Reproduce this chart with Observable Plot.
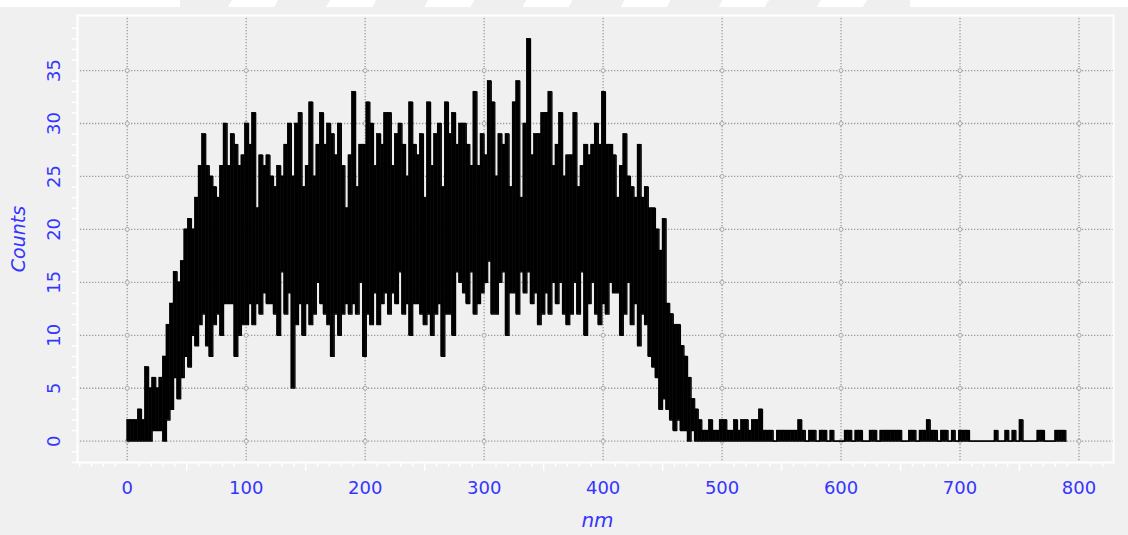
<!DOCTYPE html>
<html><head><meta charset="utf-8">
<script src="https://cdn.jsdelivr.net/npm/d3@7"></script>
<script src="https://cdn.jsdelivr.net/npm/@observablehq/plot@0.6"></script>
<style>
html,body{margin:0;padding:0;background:#f0f0f0;}
#wrap{position:relative;width:1128px;height:535px;overflow:hidden;background:#f0f0f0;}
#strip{position:absolute;left:0;top:0;width:1128px;height:7px;background:#fff;}
#strip .band{position:absolute;left:180px;top:0;width:730px;height:7px;
  background:repeating-linear-gradient(120deg,#efefef 0 45px,#ffffff 45px 85px);}
</style></head><body>
<div id="wrap"><div id="chart"></div><div id="strip"><div class="band"></div></div></div>
<script>
// bin width (nm) of the histogram
const binWidth = 3;
// upper envelope of counts per 3 nm bin, starting at 0 nm
const countsHigh = [
2,2,2,3,2,7,5,6,5,6,
8,11,13,16,15,17,20,21,20,23,
26,29,26,25,24,23,26,30,26,29,
28,26,27,30,28,31,22,27,26,27,
25,24,26,25,28,30,25,30,31,24,
26,32,25,28,31,28,30,29,27,30,
26,22,27,33,24,28,28,32,30,26,
29,28,31,31,26,29,30,28,25,32,
28,27,29,23,32,26,29,30,24,32,
29,31,28,30,30,28,26,33,26,29,
27,34,32,25,29,28,29,24,32,34,
23,30,38,27,29,29,31,31,33,26,
28,31,25,27,27,31,24,26,28,27,
28,30,28,33,28,28,27,23,26,29,
25,24,23,28,23,24,22,22,20,18,
21,13,12,11,11,9,8,6,4,3,
2,1,1,2,1,1,2,2,1,1,
2,1,2,2,1,2,2,3,1,1,
1,0,1,1,1,1,1,1,2,1,
0,1,1,0,1,1,0,1,0,0,
0,1,1,0,1,1,0,0,1,1,
0,1,1,1,1,1,1,0,0,1,
1,0,1,1,2,1,1,0,1,1,
0,1,0,1,1,1,0,0,0,0,
0,0,0,1,0,0,1,0,1,0,
2,0,0,0,0,1,1,0,0,0,
1,1,1,0];
// lower envelope of counts per 3 nm bin
const countsLow = [
0,0,0,0,0,0,0,1,1,1,
0,2,3,6,4,6,8,7,10,9,
11,12,9,8,11,12,10,13,13,13,
8,10,11,11,13,11,13,12,14,13,
13,12,10,16,12,14,5,11,13,10,
13,11,12,15,13,12,11,8,12,10,
12,13,12,13,12,15,8,12,11,14,
11,13,14,12,14,13,16,12,13,10,
13,13,12,11,12,10,12,13,8,12,
12,10,16,15,14,13,16,12,13,14,
15,17,12,12,15,16,10,14,14,12,
16,14,16,13,14,11,12,14,12,15,
13,15,12,11,12,15,12,16,10,13,
15,12,11,13,12,15,14,14,10,12,
15,11,13,9,12,11,8,7,6,3,
4,3,2,1,2,1,1,0,1,0,
0,0,0,0,0,0,0,0,0,0,
0,0,0,0,0,0,0,0,0,0,
0,0,0,0,0,0,0,0,0,0,
0,0,0,0,0,0,0,0,0,0,
0,0,0,0,0,0,0,0,0,0,
0,0,0,0,0,0,0,0,0,0,
0,0,0,0,0,0,0,0,0,0,
0,0,0,0,0,0,0,0,0,0,
0,0,0,0,0,0,0,0,0,0,
0,0,0,0,0,0,0,0,0,0,
0,0,0,0];
const xTicks = [0,100,200,300,400,500,600,700,800];
const yTicks = [0,5,10,15,20,25,30,35];
const xMidTicks = [50,150,250,350,450,550,650,750];
const xTitle = "nm";
const yTitle = "Counts";

const data = countsHigh.map((h, i) => ({nm: i * binWidth, nm2: (i + 1) * binWidth, hi: h, lo: countsLow[i]}));
const bars = data.slice(0, -1);
const xMinor = d3.range(-40, 830, 10).filter(v => v % 50 !== 0);
const yMinor = d3.range(-2, 41, 1).filter(v => v % 5 !== 0);
const cross = xTicks.flatMap(x => yTicks.map(y => ({x, y})));

const blue = "#3535ff";
const grid = "#9c9c9c";

const chart = Plot.plot({
  width: 1128, height: 535,
  marginLeft: 77, marginRight: 15, marginTop: 15, marginBottom: 73,
  style: {background: "#f0f0f0", fontFamily: "DejaVu Sans", overflow: "visible"},
  x: {domain: [-41.8, 829], axis: null},
  y: {domain: [-2.01, 40.2], axis: null},
  marks: [
    Plot.ruleX(xTicks, {stroke: grid, strokeWidth: 1.3, strokeDasharray: "1.3,1.7"}),
    Plot.ruleY(yTicks, {stroke: grid, strokeWidth: 1.3, strokeDasharray: "1.3,1.7"}),
    Plot.dot(cross, {x: "x", y: "y", r: 2, stroke: "#a8a8a8", strokeWidth: 1, fill: "#f0f0f0"}),
    Plot.rect(bars, {x1: "nm", x2: "nm2", y1: "lo", y2: "hi", fill: "black", stroke: "black", strokeWidth: 0.6}),
    Plot.lineY(data, {x: "nm", y: "hi", curve: "step-after", stroke: "black", strokeWidth: 1.2}),
    Plot.lineY(data, {x: "nm", y: "lo", curve: "step-after", stroke: "black", strokeWidth: 1.2}),
    Plot.frame({stroke: "white", strokeWidth: 2}),
    Plot.axisX(xMinor, {anchor: "bottom", tickSize: 5, stroke: "white", strokeWidth: 1.5, tickFormat: () => "", label: null}),
    Plot.axisX(xMidTicks, {anchor: "bottom", tickSize: 9, stroke: "white", strokeWidth: 1.5, tickFormat: () => "", label: null}),
    Plot.axisY(yMinor, {anchor: "left", tickSize: 5, stroke: "white", strokeWidth: 1.5, tickFormat: () => "", label: null}),
    Plot.text(xTicks, {x: d => d, frameAnchor: "bottom", dy: 26, text: d => String(d), fill: blue, fontSize: 18, lineAnchor: "middle"}),
    Plot.text(yTicks, {y: d => d, frameAnchor: "left", dx: -23, rotate: -90, text: d => String(d), fill: blue, fontSize: 18, textAnchor: "middle", lineAnchor: "middle"}),
    Plot.text([yTitle], {frameAnchor: "left", dx: -59, rotate: -90, text: d => d, fill: blue, fontSize: 19, fontStyle: "italic", textAnchor: "middle", lineAnchor: "middle"}),
    Plot.text([xTitle], {frameAnchor: "bottom", dx: 2, dy: 58, text: d => d, fill: blue, fontSize: 20, fontStyle: "italic", textAnchor: "middle", lineAnchor: "middle"})
  ]
});
document.getElementById("chart").appendChild(chart);
</script>
</body></html>
